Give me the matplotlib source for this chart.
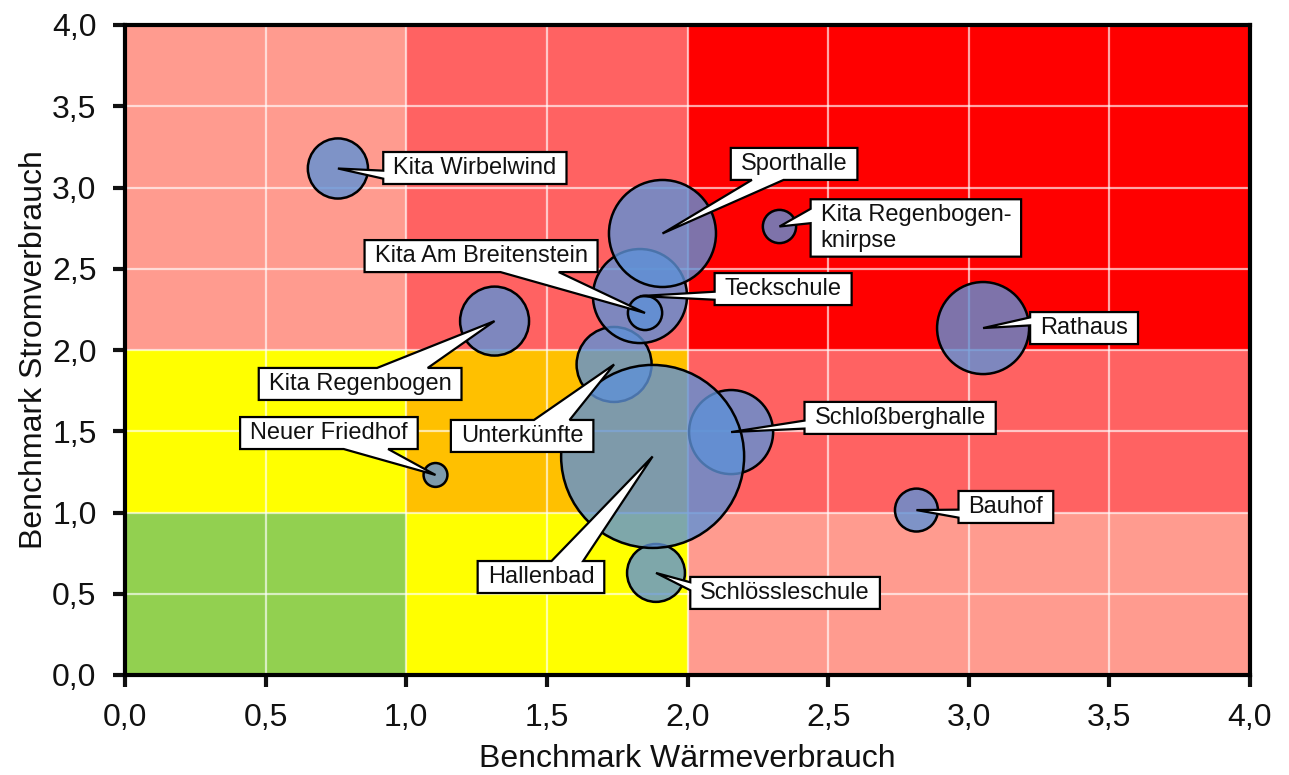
import matplotlib.pyplot as plt
from matplotlib.patches import Rectangle, PathPatch
from matplotlib.path import Path
from matplotlib.transforms import IdentityTransform
from matplotlib.ticker import FuncFormatter, MultipleLocator

plt.rcParams['font.family'] = ['Liberation Sans', 'DejaVu Sans']

# Gebäude, Benchmarks und relative Blasengröße (Hallenbad = 100)
buildings = ['Kita Wirbelwind', 'Kita Regenbogen', 'Neuer Friedhof', 'Unterkünfte',
             'Teckschule', 'Kita Am Breitenstein', 'Sporthalle',
             'Kita Regenbogen-\nknirpse', 'Schloßberghalle', 'Schlössleschule',
             'Hallenbad', 'Rathaus', 'Bauhof']
waerme = [0.757, 1.314, 1.104, 1.739, 1.831, 1.849, 1.911, 2.327, 2.155, 1.888,
          1.876, 3.051, 2.814]
strom = [3.117, 2.178, 1.231, 1.911, 2.332, 2.228, 2.717, 2.760, 1.495, 0.628,
         1.345, 2.135, 1.015]
groesse = [10.8, 14.2, 1.7, 16.8, 26.4, 3.5, 34.2, 3.3, 21.1, 10.0, 100.0, 25.3, 5.5]

# Beschriftungspositionen (Mitte der Box)
label_pos = [(1.244, 3.12), (0.836, 1.791), (0.725, 1.489), (1.412, 1.471),
             (2.340, 2.375), (1.266, 2.578), (2.379, 3.145), (2.812, 2.751),
             (2.756, 1.582), (2.347, 0.505), (1.479, 0.603), (3.410, 2.135),
             (3.132, 1.034)]

# Bewertungsfelder
x_breaks = [0, 1, 2, 4]
y_breaks = [0, 1, 2, 4]
zone_colors = [  # Zeilen: Strom-Band, Spalten: Wärme-Band
    ['#92D050', '#FFFF00', '#FF9B8F'],
    ['#FFFF00', '#FFC000', '#FF6262'],
    ['#FF9B8F', '#FF6262', '#FF0000'],
]


def callout_path(l, b, r, t, px, py):
    """Rechteck mit Keil zur Spitze (px, py), alles in Pixeln."""
    w, h = r - l, t - b
    cx, cy = (l + r) / 2, (b + t) / 2
    dx, dy = px - cx, py - cy
    if abs(dx) / w > abs(dy) / h:
        # Keil an linker/rechter Kante
        if dy < 0:
            y_hi, y_lo = t - 7 / 12 * h, t - 10 / 12 * h
        else:
            y_hi, y_lo = t - 2 / 12 * h, t - 5 / 12 * h
        if dx > 0:
            verts = [(l, t), (r, t), (r, y_hi), (px, py), (r, y_lo), (r, b), (l, b)]
        else:
            verts = [(l, t), (r, t), (r, b), (l, b), (l, y_lo), (px, py), (l, y_hi)]
    else:
        # Keil an oberer/unterer Kante
        if dx > 0:
            x_a, x_b = l + 7 / 12 * w, l + 10 / 12 * w
        else:
            x_a, x_b = l + 2 / 12 * w, l + 5 / 12 * w
        if dy > 0:
            verts = [(l, t), (x_a, t), (px, py), (x_b, t), (r, t), (r, b), (l, b)]
        else:
            verts = [(l, t), (r, t), (r, b), (x_b, b), (px, py), (x_a, b), (l, b)]
    verts.append(verts[0])
    codes = [Path.MOVETO] + [Path.LINETO] * (len(verts) - 2) + [Path.CLOSEPOLY]
    return Path(verts, codes)


fig = plt.figure(figsize=(12.89, 7.75), dpi=100)
ax = fig.add_axes([125 / 1289, 1 - 675 / 775, 1125 / 1289, 650 / 775])

for i in range(3):
    for j in range(3):
        ax.add_patch(Rectangle((x_breaks[j], y_breaks[i]),
                               x_breaks[j + 1] - x_breaks[j],
                               y_breaks[i + 1] - y_breaks[i],
                               facecolor=zone_colors[i][j], edgecolor='none', zorder=0))

ax.set_xlim(0, 4)
ax.set_ylim(0, 4)
ax.xaxis.set_major_locator(MultipleLocator(0.5))
ax.yaxis.set_major_locator(MultipleLocator(0.5))
ax.grid(True, color='white', linewidth=1.6, alpha=0.65, zorder=0.5)
ax.set_axisbelow(True)

comma = FuncFormatter(lambda v, _: f'{v:.1f}'.replace('.', ','))
ax.xaxis.set_major_formatter(comma)
ax.yaxis.set_major_formatter(comma)
ax.tick_params(direction='out', length=8.5, width=3, labelsize=23,
               pad=12, colors='#111111')

for sp in ax.spines.values():
    sp.set_linewidth(3)
    sp.set_color('black')
    sp.set_zorder(5)

# Blasen: max. Durchmesser 183 px
max_d_pt = 183 * 72 / 100
sizes = [g / 100 * max_d_pt ** 2 for g in groesse]
ax.scatter(waerme, strom, s=sizes, facecolor=(0.37, 0.57, 0.84, 0.8),
           edgecolor='black', linewidth=1.8, zorder=2, clip_on=False)

texts = []
for name, (lx, ly) in zip(buildings, label_pos):
    texts.append(ax.text(lx, ly, name, ha='center', va='center', fontsize=17,
                         multialignment='left', color='#111111', zorder=6))

ax.set_xlabel('Benchmark Wärmeverbrauch', fontsize=23, color='#111111',
              va='baseline')
ax.set_ylabel('Benchmark Stromverbrauch', fontsize=23, color='#111111')
ax.xaxis.set_label_coords(0.5, -0.1415)
ax.yaxis.set_label_coords(-0.0676, 0.5)

# Beschriftungsboxen mit Keil zur Blasenmitte
fig.canvas.draw()
renderer = fig.canvas.get_renderer()
pad_x, pad_y = 10, 5
for txt, x, y in zip(texts, waerme, strom):
    bb = txt.get_window_extent(renderer)
    px, py = ax.transData.transform((x, y))
    path = callout_path(bb.x0 - pad_x, bb.y0 - pad_y, bb.x1 + pad_x, bb.y1 + pad_y, px, py)
    ax.add_artist(PathPatch(path, transform=IdentityTransform(), facecolor='white',
                            edgecolor='black', linewidth=1.6, zorder=5,
                            joinstyle='miter', clip_on=False))

fig.savefig('out.png', dpi=100)
